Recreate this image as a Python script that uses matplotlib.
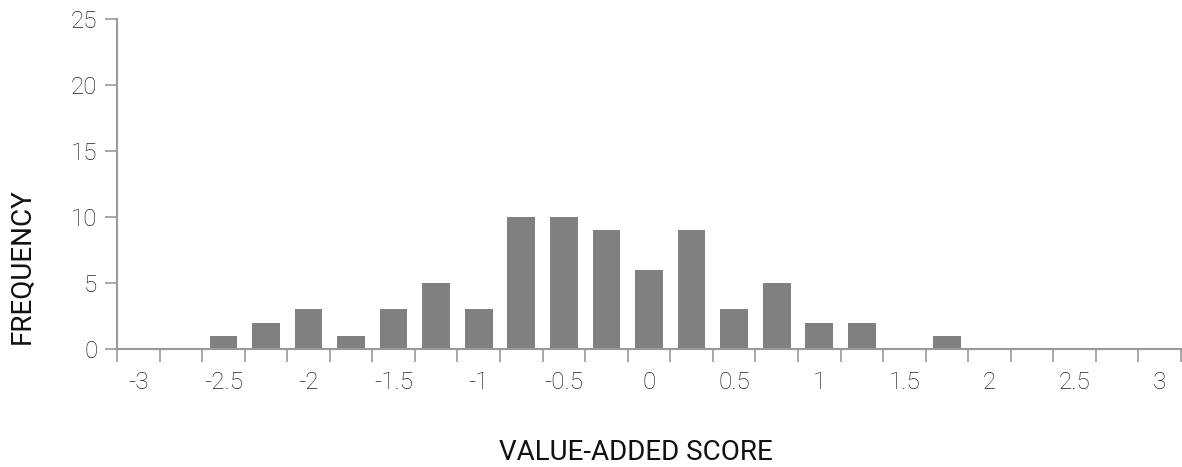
import numpy as np
import matplotlib.pyplot as plt

plt.rcParams["font.family"] = ["Roboto", "DejaVu Sans"]

# bin centres (value-added score) and counts
scores = [-3, -2.75, -2.5, -2.25, -2, -1.75, -1.5, -1.25, -1, -0.75, -0.5, -0.25,
          0, 0.25, 0.5, 0.75, 1, 1.25, 1.5, 1.75, 2, 2.25, 2.5, 2.75, 3]
freq = [0, 0, 1, 2, 3, 1, 3, 5, 3, 10, 10, 9,
        6, 9, 3, 5, 2, 2, 0, 1, 0, 0, 0, 0, 0]
tick_labels = ["-3", "", "-2.5", "", "-2", "", "-1.5", "", "-1", "", "-0.5", "",
               "0", "", "0.5", "", "1", "", "1.5", "", "2", "", "2.5", "", "3"]

bar_col = "#808083"
axis_col = "#9a9a9a"
text_col = "#222222"

fig = plt.figure(figsize=(11.82, 4.67), dpi=100)
ax = fig.add_axes([117/1182, 118/467, 1064/1182, 330/467])

x = np.arange(len(scores))
ax.bar(x, freq, width=0.65, color=bar_col, zorder=2)

ax.set_xlim(-0.5, len(scores) - 0.5)
ax.set_ylim(0, 25)
ax.set_yticks(range(0, 26, 5))

# ticks on slot boundaries, labels at slot centres
ax.set_xticks(np.arange(-0.5, len(scores), 1.0))
ax.set_xticklabels([])
ax.set_xticks(x, minor=True)
ax.set_xticklabels(tick_labels, minor=True)
ax.tick_params(axis="x", which="major", length=9, width=1.2, color=axis_col)
ax.tick_params(axis="x", which="minor", length=0, pad=16, labelsize=17.5, labelcolor=text_col)
ax.tick_params(axis="y", length=9, width=1.2, color=axis_col, pad=5, labelsize=17.5, labelcolor=text_col)
for lbl in ax.get_xticklabels(minor=True) + ax.get_yticklabels():
    lbl.set_fontweight("light")

for s in ["top", "right"]:
    ax.spines[s].set_visible(False)
for s in ["left", "bottom"]:
    ax.spines[s].set_color(axis_col)
    ax.spines[s].set_linewidth(1.5)

fig.text(22/1182, 1 - 266/467, "FREQUENCY", rotation=90, ha="center", va="center",
         fontsize=20, color="#111111")
fig.text(636/1182, 1 - 452/467, "VALUE-ADDED SCORE", ha="center", va="center",
         fontsize=20, color="#111111")

fig.savefig("out.png", dpi=100)
